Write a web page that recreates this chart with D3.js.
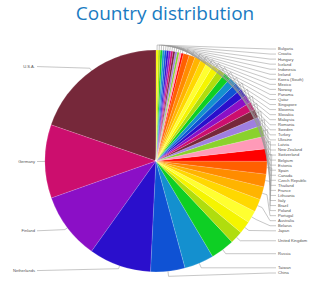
<!DOCTYPE html>
<html><head><meta charset="utf-8">
<script src="https://cdn.jsdelivr.net/npm/d3@7"></script>
<style>body{margin:0;background:#fff}svg{display:block}</style>
</head><body>
<svg id="c" width="320" height="282"></svg>
<script>
const countries = ["U.S.A.","Germany","Finland","Netherlands","China","Taiwan","Russia","United Kingdom","Japan","Belarus","Australia","Portugal","Poland","Brazil","Italy","Lithuania","France","Thailand","Czech Republic","Canada","Spain","Estonia","Belgium","Switzerland","New Zealand","Latvia","Ukraine","Turkey","Sweden","Romania","Malaysia","Slovakia","Slovenia","Singapore","Qatar","Panama","Norway","Mexico","Korea (South)","Ireland","Indonesia","Iceland","Hungary","Croatia","Bulgaria"];
const values = [71,38.5,35,32.7,18,15.5,12.5,6.7,6.6,6.4,6.8,6.8,6.7,6.7,6.5,6.5,5.7,4.6,4.4,4.3,4.2,4.1,4.0,3.9,3.8,3.7,3.6,3.5,3.4,3.3,3.2,3.1,1.1,1.1,1.1,1.1,1.1,1.1,1.1,1.1,1.1,1.1,1.1,1.1,1.1];
const palette = ["#76283a","#cc0e6e","#8b0fc6","#2a0fcc","#0f52d4","#1490cf","#0ecf24","#b0dd0e","#f5f500","#ffff30","#ffd800","#ffb400","#ff8c00","#ff6000","#ff0000","#ff9ab8","#8ad22c","#9f7fe0"];
const title = "Country distribution";

const svg = d3.select("#c");
const cx = 156, cy = 161, R = 111;
svg.append("text").attr("x",165).attr("y",20).attr("text-anchor","middle")
  .attr("font-family","'Open Sans', sans-serif").attr("font-size",19).attr("fill","#1a7bc2").text(title);

const data = countries.map((c,i)=>({name:c,value:values[i],color:palette[i%palette.length]}));
const pie = d3.pie().value(d=>d.value).sort(null).startAngle(2*Math.PI).endAngle(0);
const arcs = pie(data);
const arc = d3.arc().innerRadius(0).outerRadius(R);
const g = svg.append("g").attr("transform",`translate(${cx},${cy})`);
g.selectAll("path.s").data(arcs).join("path").attr("class","s")
  .attr("d",arc).attr("fill",d=>d.data.color).attr("stroke","#fff").attr("stroke-width",0.15);

const pt = (a,r)=>[cx + r*Math.sin(a), cy - r*Math.cos(a)];
const items = arcs.map(d=>{const m=(d.startAngle+d.endAngle)/2%(2*Math.PI);return {d, m, right: Math.sin(m)>0, nat: pt(m,R+5)[1]};});
const right = items.filter(o=>o.right).sort((a,b)=>a.m-b.m);
const left = items.filter(o=>!o.right);
const sp = 5.05, yTop = 49, yBottom = 273;
right.forEach((o,i)=>{o.y = i===0 ? Math.max(o.nat,yTop) : Math.max(o.nat, right[i-1].y+sp);});
for(let i=right.length-1;i>=0;i--){ if(i===right.length-1) right[i].y=Math.min(right[i].y,yBottom); else right[i].y=Math.min(right[i].y,right[i+1].y-sp);}
left.forEach(o=>o.y=o.nat);

const lx = 278, lxe = 35;
const lines = svg.append("g").attr("fill","none").attr("stroke","#999").attr("stroke-width",0.55);
right.forEach(o=>{
  const p0=pt(o.m,R), p1=pt(o.m,R+5);
  lines.append("path").attr("d",`M${p0}L${p1}L${lx-8},${o.y}L${lx-2},${o.y}`);
});
left.forEach(o=>{
  const p0=pt(o.m,R), p1=pt(o.m,R+3);
  lines.append("path").attr("d",`M${p0}L${p1}L${lxe+2},${o.y}`);
});
const lab = svg.append("g").attr("font-family","Arial, 'Liberation Sans', sans-serif").attr("font-size",4.1).attr("fill","#555");
right.forEach(o=>lab.append("text").attr("x",lx).attr("y",o.y).attr("dy","0.35em").text(o.d.data.name));
left.forEach(o=>lab.append("text").attr("x",lxe).attr("y",o.y).attr("dy","0.35em").attr("text-anchor","end").text(o.d.data.name));
</script>
</body></html>
